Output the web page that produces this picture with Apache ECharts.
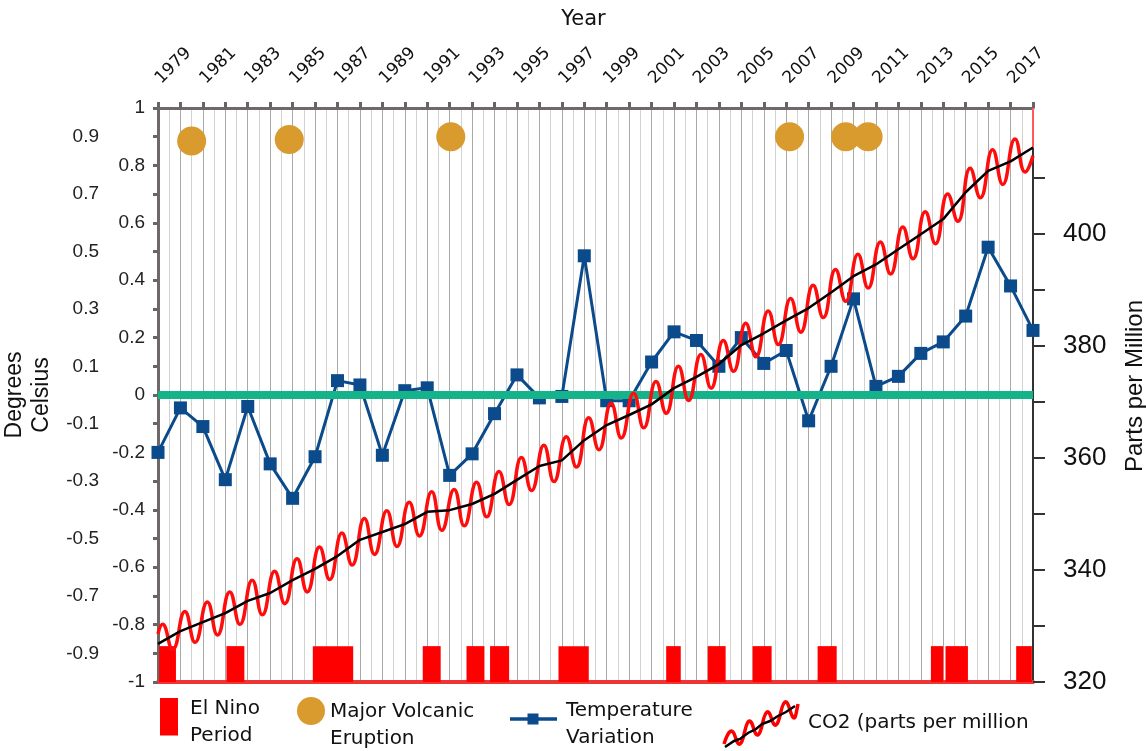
<!DOCTYPE html>
<html><head><meta charset="utf-8">
<script src="https://cdn.jsdelivr.net/npm/echarts@6/dist/echarts.min.js"></script>
<style>html,body{margin:0;padding:0;background:#fff}#c{width:1146px;height:751px}</style>
</head><body><div id="c"></div>
<script>
// ---------- data ----------
const years = [1979,1980,1981,1982,1983,1984,1985,1986,1987,1988,1989,1990,1991,1992,1993,1994,1995,1996,1997,1998,1999,2000,2001,2002,2003,2004,2005,2006,2007,2008,2009,2010,2011,2012,2013,2014,2015,2016,2017,2018];
const labelYears = [1979,1981,1983,1985,1987,1989,1991,1993,1995,1997,1999,2001,2003,2005,2007,2009,2011,2013,2015,2017];
const tempValues = [-0.20,-0.045,-0.11,-0.295,-0.04,-0.24,-0.36,-0.215,0.05,0.035,-0.21,0.015,0.025,-0.28,-0.205,-0.065,0.07,-0.01,-0.005,0.485,-0.02,-0.02,0.115,0.22,0.19,0.10,0.20,0.11,0.155,-0.09,0.10,0.335,0.03,0.065,0.145,0.185,0.275,0.515,0.38,0.225];
const co2Trend = [326.8,329.1,330.7,332.3,334.5,335.9,338.2,340.2,342.5,345.4,346.8,348.2,350.4,350.7,351.8,353.6,356.1,358.6,359.6,363.2,365.9,367.7,369.6,372.5,374.5,376.8,380.2,382.3,384.6,386.8,389.6,392.5,394.6,397.3,400.0,402.7,407.5,411.3,413.0,415.5];
// seasonal maxima / minima of the monthly CO2 curve, one pair per year 1979..2017
const co2Peak = [330.3,332.6,334.3,336.1,338.2,339.8,342.0,344.1,346.6,349.2,350.6,352.1,354.0,354.4,355.7,357.6,360.1,362.3,363.8,367.2,369.8,371.6,373.7,376.4,378.5,381.0,384.1,386.3,388.5,390.9,393.7,396.4,398.6,401.3,404.0,407.2,411.8,415.1,417.0];
const co2Trough = [325.8,327.1,328.4,330.3,332.0,334.0,336.1,338.3,340.9,342.8,344.2,346.1,347.1,347.9,349.5,351.7,354.2,355.8,358.4,361.5,363.6,365.4,368.0,370.3,372.5,375.5,378.1,380.3,382.5,385.1,388.0,390.4,392.9,395.6,398.3,402.3,406.5,408.9,411.1];
const co2First = 328.6, co2Last = 414.0;
const peakPhase = 0.2, troughPhase = 0.65;
const volcanoYears = [1980.5,1984.85,1992.05,2007.15,2009.65,2010.65];
const volcanoLevel = [0.885,0.89,0.9,0.9,0.9,0.9];
const elNinoStart = [1979.05,1982.05,1985.9,1990.8,1992.75,1993.8,1996.85,2001.65,2003.5,2005.5,2008.4,2013.45,2014.1,2017.25];
const elNinoEnd   = [1979.8,1982.85,1987.7,1991.6,1993.55,1994.65,1998.2,2002.3,2004.3,2006.35,2009.25,2014.0,2015.1,2017.95];
const elNinoTop = -0.875, elNinoBase = -1;
const ppmMin = 320, ppmMax = 415.4;
const edgeMarkTop = 1, edgeMarkBottom = 0.86;

// ---------- build series data ----------
const tempData = years.map((y,i)=>[y,tempValues[i]]);
const trendData = years.map((y,i)=>[y,co2Trend[i]]);
const redData = [[years[0],co2First]];
co2Peak.forEach((v,i)=>{ redData.push([years[i]+peakPhase,v]); redData.push([years[i]+troughPhase,co2Trough[i]]); });
redData.push([years[years.length-1],co2Last]);
const volcanoData = volcanoYears.map((y,i)=>[y,volcanoLevel[i]]);
const ninoData = elNinoStart.map((s,i)=>[s,elNinoEnd[i],elNinoTop]);
const lastYear = years[years.length-1];

// ---------- legend icons (svg) ----------
function svgUri(w,h,body){ return 'image://data:image/svg+xml;charset=utf-8,'+encodeURIComponent("<svg xmlns='http://www.w3.org/2000/svg' width='"+w+"' height='"+h+"' viewBox='0 0 "+w+" "+h+"'>"+body+"</svg>"); }
const wavePts = [[2,46],[9,24],[18,55],[27,14],[36,46],[45,5],[54,36],[63,-5],[72,26],[76,6]];
let wave = 'M'+wavePts[0].join(',');
for(let i=1;i<wavePts.length-1;i++){ const a=wavePts[i], b=wavePts[i+1]; wave += ' Q'+a.join(',')+' '+((a[0]+b[0])/2)+','+((a[1]+b[1])/2); }
wave += ' L'+wavePts[wavePts.length-1].join(',');
const co2Icon = svgUri(78,50,"<path d='"+wave+"' fill='none' stroke='#ff0000' stroke-width='3.5' stroke-linejoin='round'/>"+
  "<polyline points='3,49 12,43 18,41 26,35 34,31 40,26 48,23 56,18 64,14 73,8' fill='none' stroke='#000' stroke-width='2.5'/>");
const ninoIcon = svgUri(18,49,"<rect x='0' y='0' width='18' height='38' fill='#ff0000'/>");
const volcIcon = svgUri(28,56,"<circle cx='14' cy='14' r='14' fill='#d99a2e'/>");
const tempIcon = svgUri(47,24,"<line x1='0' y1='7' x2='47' y2='7' stroke='#0b4a8b' stroke-width='3.5'/><rect x='17.5' y='1.5' width='11' height='11' fill='#0b4a8b'/>");

const sans = 'Liberation Sans';
const dj = 'DejaVu Sans';
function lt(pad){ return {fontFamily:dj,fontSize:20,color:'#111',lineHeight:27,padding:pad}; }

const chart = echarts.init(document.getElementById('c'));
chart.setOption({
  animation:false,
  backgroundColor:'#fff',
  grid:[{left:158,right:113,top:108,bottom:69,outerBoundsMode:'none',containLabel:false},
        {left:158,right:113,top:148,bottom:69,outerBoundsMode:'none',containLabel:false}],
  legend:[
    {left:160,top:695,padding:0,itemWidth:18,itemHeight:49,selectedMode:false,data:[{name:'El Nino\nPeriod',icon:ninoIcon}],textStyle:lt([0,0,0,7])},
    {left:297,top:697,padding:0,itemWidth:28,itemHeight:56,selectedMode:false,data:[{name:'Major Volcanic\nEruption',icon:volcIcon}],textStyle:lt([0,0,0,0])},
    {left:510,top:697,padding:0,itemWidth:47,itemHeight:24,selectedMode:false,data:[{name:'Temperature\nVariation',icon:tempIcon}],textStyle:lt([0,0,0,4])},
    {left:722,top:698,padding:0,itemWidth:78,itemHeight:50,selectedMode:false,data:[{name:'CO2 (parts per million',icon:co2Icon}],textStyle:lt([0,0,0,3])}
  ],
  xAxis:[
    {type:'value',gridIndex:0,position:'top',min:1979,max:2018,interval:1,
     name:'Year',nameLocation:'middle',nameGap:78,
     nameTextStyle:{fontFamily:dj,fontSize:21,color:'#111',padding:[0,24,0,0]},
     axisLine:{show:true,onZero:false,lineStyle:{color:'#6e6868',width:3}},
     axisTick:{show:true,length:6,lineStyle:{color:'#666',width:3}},
     axisLabel:{rotate:-45,margin:27,fontFamily:dj,fontSize:17,color:'#111',showMinLabel:true,showMaxLabel:true,
       formatter:v=>labelYears.includes(Math.round(v))?String(Math.round(v)):''},
     splitLine:{show:true,lineStyle:{color:'#a9a9a9',width:1}},
     minorTick:{show:false,splitNumber:2},
     minorSplitLine:{show:true,lineStyle:{color:'#d2d2d2',width:1}}},
    {type:'value',gridIndex:0,position:'bottom',min:1979,max:2018,
     axisLine:{show:true,onZero:false,lineStyle:{color:'#ee3535',width:4}},
     axisTick:{show:false},axisLabel:{show:false},splitLine:{show:false}},
    {type:'value',gridIndex:1,min:1979,max:2018,show:false,splitLine:{show:false}}
  ],
  yAxis:[
    {type:'value',gridIndex:0,position:'left',min:-1,max:1,interval:0.1,
     name:'Degrees\nCelsius',nameLocation:'middle',nameRotate:90,nameGap:98,
     nameTextStyle:{fontFamily:sans,fontSize:23,color:'#111',lineHeight:27},
     axisLine:{show:true,onZero:false,lineStyle:{color:'#6e6868',width:3}},
     axisTick:{show:true,length:5,lineStyle:{color:'#666',width:3}},
     axisLabel:{margin:13,fontFamily:sans,fontSize:19,color:'#222',
       formatter:v=>{const r=Math.round(v*10);const s=(r===10)?'1':(r===-10)?'-1':String(r/10);return (Math.abs(r)%2===1)?'{odd|'+s+'}':s;},
       rich:{odd:{fontFamily:sans,fontSize:19,color:'#222',padding:[0,46,0,0]}}},
     splitLine:{show:false}},
    {type:'value',gridIndex:1,position:'right',min:ppmMin,max:ppmMax,interval:10,
     name:'Parts per Million',nameLocation:'middle',nameRotate:90,nameGap:90,
     nameTextStyle:{fontFamily:sans,fontSize:24,color:'#111',padding:[0,0,0,58]},
     axisLine:{show:true,onZero:false,lineStyle:{color:'#333',width:2}},
     axisTick:{show:true,length:12,lineStyle:{color:'#333',width:2}},
     axisLabel:{margin:30,fontFamily:sans,fontSize:26,color:'#111',showMaxLabel:false,
       formatter:v=>(Math.abs(v-Math.round(v))<1e-6 && Math.round(v)%20===0)?String(Math.round(v)):''},
     splitLine:{show:false}}
  ],
  series:[
    {name:'Major Volcanic\nEruption',type:'scatter',xAxisIndex:0,yAxisIndex:0,data:volcanoData,symbol:'circle',symbolSize:29,
     itemStyle:{color:'#d99a2e',opacity:1},z:3},
    {name:'El Nino\nPeriod',type:'custom',xAxisIndex:0,yAxisIndex:0,data:ninoData,encode:{x:[0,1],y:2},
     itemStyle:{color:'#ff0000'},z:3,
     renderItem:(params,api)=>{
       const p0=api.coord([api.value(0),api.value(2)]);
       const p1=api.coord([api.value(1),elNinoBase]);
       return {type:'rect',shape:{x:p0[0],y:p0[1],width:p1[0]-p0[0],height:p1[1]-p0[1]},style:{fill:'#ff0000'}};
     }},
    {name:'Temperature\nVariation',type:'line',xAxisIndex:0,yAxisIndex:0,data:tempData,
     symbol:'rect',symbolSize:13,showSymbol:true,
     lineStyle:{color:'#0b4a8b',width:3},itemStyle:{color:'#0b4a8b'},z:4},
    {name:'CO2 (parts per million',type:'line',xAxisIndex:2,yAxisIndex:1,data:redData,smooth:0.5,clip:false,
     symbol:'none',lineStyle:{color:'#ff0d0d',width:3.5},itemStyle:{color:'#ff0d0d'},z:5},
    {name:'CO2 trend',type:'line',xAxisIndex:2,yAxisIndex:1,data:trendData,clip:false,
     symbol:'none',lineStyle:{color:'#000',width:2.5},itemStyle:{color:'#000'},z:6},
    {name:'zero',type:'line',xAxisIndex:0,yAxisIndex:0,data:[],z:7,
     markLine:{silent:true,symbol:'none',label:{show:false},lineStyle:{color:'#14b38a',width:8,type:'solid'},
       data:[{yAxis:0},[{coord:[lastYear,edgeMarkTop],lineStyle:{color:'#ff5a5a',width:2}},{coord:[lastYear,edgeMarkBottom]}]]}}
  ]
});
</script></body></html>
